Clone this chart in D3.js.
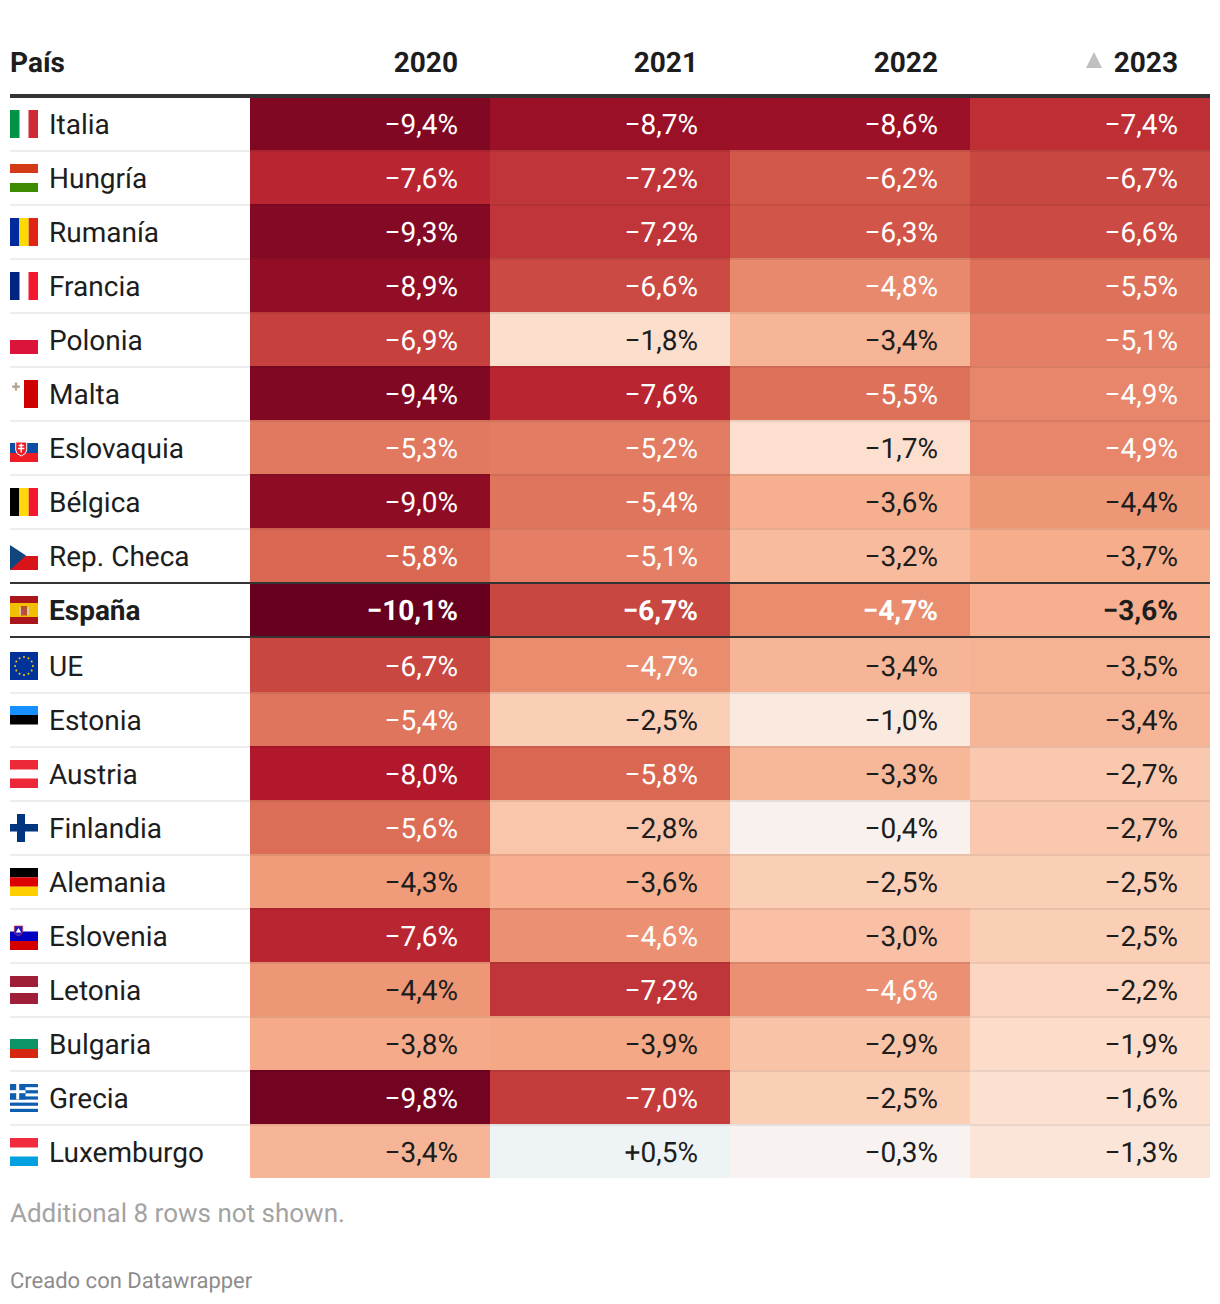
<!DOCTYPE html>
<html><head><meta charset="utf-8">
<style>html,body{margin:0;padding:0;background:#fff}svg{display:block}text{font-family:Roboto,sans-serif;font-variant-numeric:tabular-nums;text-rendering:geometricPrecision}</style>
<script src="https://cdnjs.cloudflare.com/ajax/libs/d3/7.8.5/d3.min.js"></script>
</head><body><svg id="c" width="1220" height="1304"></svg>
<script>
const countries=["Italia","Hungría","Rumanía","Francia","Polonia","Malta","Eslovaquia","Bélgica","Rep. Checa","España","UE","Estonia","Austria","Finlandia","Alemania","Eslovenia","Letonia","Bulgaria","Grecia","Luxemburgo"];
const years=["2020","2021","2022","2023"];
const v2020=[-9.4,-7.6,-9.3,-8.9,-6.9,-9.4,-5.3,-9.0,-5.8,-10.1,-6.7,-5.4,-8.0,-5.6,-4.3,-7.6,-4.4,-3.8,-9.8,-3.4];
const v2021=[-8.7,-7.2,-7.2,-6.6,-1.8,-7.6,-5.2,-5.4,-5.1,-6.7,-4.7,-2.5,-5.8,-2.8,-3.6,-4.6,-7.2,-3.9,-7.0,0.5];
const v2022=[-8.6,-6.2,-6.3,-4.8,-3.4,-5.5,-1.7,-3.6,-3.2,-4.7,-3.4,-1.0,-3.3,-0.4,-2.5,-3.0,-4.6,-2.9,-2.5,-0.3];
const v2023=[-7.4,-6.7,-6.6,-5.5,-5.1,-4.9,-4.9,-4.4,-3.7,-3.6,-3.5,-3.4,-2.7,-2.7,-2.5,-2.5,-2.2,-1.9,-1.6,-1.3];
const series=[v2020,v2021,v2022,v2023];
const highlighted="España";
const noteText="Additional 8 rows not shown.", creditText="Creado con Datawrapper", firstHeader="País";

const svg=d3.select("#c");
const INK="#1d1d1d", DARK="#333333", W=1210;
const color=d3.scaleLinear().domain([-10.1,-8,-6,-4,-2,0,2])
  .range(["#67001f","#b2182b","#d6604d","#f4a582","#fddbc7","#f7f7f7","#d1e5f0"]).clamp(true);
const x=d3.scaleBand().domain(years).range([250,1210]);
const hl=countries.indexOf(highlighted), last=countries.length-1;
const rowTop=i=>98+i*54+(i>hl?2:0);
const cellTop=i=>i===0?98:(i===hl+1?636:rowTop(i)-2);
const cellBottom=i=>i===last?1178:cellTop(i+1);
const fmt=v=>(v<0?"\u2212":"+")+Math.abs(v).toFixed(1).replace(".",",")+"%";

// header
svg.append("text").attr("x",10).attr("y",72).attr("font-size",28).attr("font-weight",700).attr("fill",INK).text(firstHeader);
svg.selectAll("text.h").data(years).join("text").attr("class","h")
  .attr("x",d=>x(d)+x.bandwidth()-32).attr("y",72).attr("text-anchor","end")
  .attr("font-size",28).attr("font-weight",700).attr("fill",INK).text(d=>d);
svg.append("path").attr("d","M1086 68L1094 52L1102 68Z").attr("fill","#c0c0c0");

// cell fills
countries.forEach((name,i)=>years.forEach((yr,k)=>{
  svg.append("rect").attr("x",x(yr)).attr("y",cellTop(i)).attr("width",x.bandwidth())
    .attr("height",cellBottom(i)-cellTop(i)).attr("fill",color(series[k][i]));
}));
// row rules
countries.forEach((c,i)=>{
  if(i===0)return;
  const r=svg.append("rect").attr("x",10).attr("y",cellTop(i)).attr("width",W-10).attr("height",2);
  if(i===hl||i===hl+1) r.attr("fill",DARK);
  else r.attr("fill","#000").attr("fill-opacity",0.07);
});
svg.append("rect").attr("x",10).attr("y",94).attr("width",W-10).attr("height",4).attr("fill",DARK);

// row contents
const rows=svg.selectAll("g.row").data(countries).join("g").attr("class","row")
  .attr("transform",(d,i)=>`translate(0,${rowTop(i)})`);
rows.each(function(name,i){
  const g=d3.select(this), bold=i===hl, base=36;
  years.forEach((yr,k)=>{
    const val=series[k][i];
    g.append("text").attr("x",x(yr)+x.bandwidth()-32).attr("y",base)
      .attr("text-anchor","end").attr("font-size",28).attr("font-weight",bold?700:400)
      .attr("fill",val<=-4.5?"#ffffff":INK).text(fmt(val));
  });
  g.append("text").attr("x",49).attr("y",base).attr("font-size",28).attr("font-weight",bold?700:400).attr("fill",INK).text(name);
  drawFlag(g.append("g").attr("transform","translate(10,12)"),name);
});

// footer
svg.append("text").attr("x",10).attr("y",1222).attr("font-size",26).attr("fill","#a3a3a3").text(noteText);
svg.append("text").attr("x",10).attr("y",1288).attr("font-size",22).attr("fill","#8c8c8c").text(creditText);

function bands(g,list){
  list.forEach(b=>g.append("rect").attr("x",0).attr("y",b[0]).attr("width",28).attr("height",b[1]-b[0]).attr("fill",b[2]));
}
function vbands(g,list){
  list.forEach(b=>g.append("rect").attr("x",b[0]).attr("y",0).attr("width",b[1]-b[0]).attr("height",28).attr("fill",b[2]));
}
function drawFlag(g,n){
  switch(n){
    case "Italia":vbands(g,[[0,9.5,"#009246"],[18.5,28,"#ce2b37"]]);break;
    case "Hungría":bands(g,[[0,9,"#d43a18"],[19,28,"#3d8c00"]]);break;
    case "Rumanía":vbands(g,[[0,9.3,"#002b9f"],[9.3,18.7,"#fcd900"],[18.7,28,"#e02514"]]);break;
    case "Francia":vbands(g,[[0,9.5,"#002480"],[18.5,28,"#f31830"]]);break;
    case "Polonia":bands(g,[[14,28,"#dc143c"]]);break;
    case "Malta":vbands(g,[[14,28,"#cf0000"]]);
      g.append("path").attr("d","M2 6.6H10M6 2.6V10.6").attr("stroke","#b5a595").attr("stroke-width",2.4);break;
    case "Eslovaquia":bands(g,[[9,19,"#0b4ea2"],[19,28,"#ee1c25"]]);
      g.append("path").attr("d","M5.7 8H16.7V16Q16.7 20 11.2 22Q5.7 20 5.7 16Z").attr("fill","#ee1c25").attr("stroke","#fff").attr("stroke-width",1);
      g.append("path").attr("d","M11.2 9.5V18.5M8.7 11.5H13.7M8 14.5H14.4").attr("stroke","#fff").attr("stroke-width",1.4);break;
    case "Bélgica":vbands(g,[[0,9.3,"#000"],[9.3,18.7,"#ffd90c"],[18.7,28,"#f31830"]]);break;
    case "Rep. Checa":bands(g,[[14,28,"#d7141a"]]);
      g.append("path").attr("d","M0 3L16 13.5L0 28Z").attr("fill","#11457e");break;
    case "España":bands(g,[[0,7,"#aa151b"],[7,21,"#f1bf00"],[21,28,"#aa151b"]]);
      g.append("rect").attr("x",9).attr("y",11).attr("width",2).attr("height",8).attr("fill","#d9c7a0");
      g.append("rect").attr("x",17).attr("y",11).attr("width",2).attr("height",8).attr("fill","#d9c7a0");
      g.append("rect").attr("x",11).attr("y",10).attr("width",6).attr("height",9.5).attr("fill","#b5502a");
      g.append("rect").attr("x",11).attr("y",14).attr("width",3).attr("height",5).attr("fill","#c8455a");break;
    case "UE":bands(g,[[0,28,"#003399"]]);
      d3.range(12).forEach(k=>{const a=k*Math.PI/6;g.append("circle").attr("cx",14+8.9*Math.cos(a)).attr("cy",14+8.9*Math.sin(a)).attr("r",1).attr("fill","#ffcc00");});break;
    case "Estonia":bands(g,[[0,9,"#1791ff"],[9,18.5,"#000"]]);break;
    case "Austria":bands(g,[[0,9.5,"#ed2939"],[18.5,28,"#ed2939"]]);break;
    case "Finlandia":bands(g,[[10,17.5,"#003580"]]);vbands(g,[[7,15,"#003580"]]);break;
    case "Alemania":bands(g,[[0,9.3,"#000"],[9.3,18.7,"#dd0000"],[18.7,28,"#ffce00"]]);break;
    case "Eslovenia":bands(g,[[9.5,19,"#0000c0"],[19,28,"#d40000"]]);
      g.append("path").attr("d","M4.3 4H12.7V9.5Q12.7 12 8.5 14Q4.3 12 4.3 9.5Z").attr("fill","#1a1ac8").attr("stroke","#dd3333").attr("stroke-width",.7);
      g.append("path").attr("d","M5.8 10.5L8.5 6L11.2 10.5Z").attr("fill","#fff");break;
    case "Letonia":bands(g,[[0,11,"#9e1f37"],[17,28,"#9e1f37"]]);break;
    case "Bulgaria":bands(g,[[9,19,"#0d9468"],[19,28,"#d62612"]]);break;
    case "Grecia":{
      [0,6.2,12.4,18.6,24.8].forEach(y=>g.append("rect").attr("x",0).attr("y",y).attr("width",28).attr("height",3.2).attr("fill","#0d5eaf"));
      g.append("rect").attr("width",15.5).attr("height",15.5).attr("fill","#0d5eaf");
      g.append("rect").attr("x",6.2).attr("width",3).attr("height",15.5).attr("fill","#fff");
      g.append("rect").attr("y",6.2).attr("width",15.5).attr("height",3).attr("fill","#fff");break;}
    case "Luxemburgo":bands(g,[[0,9.5,"#ef2b3d"],[18.5,28,"#00a1de"]]);break;
  }
}
</script></body></html>
